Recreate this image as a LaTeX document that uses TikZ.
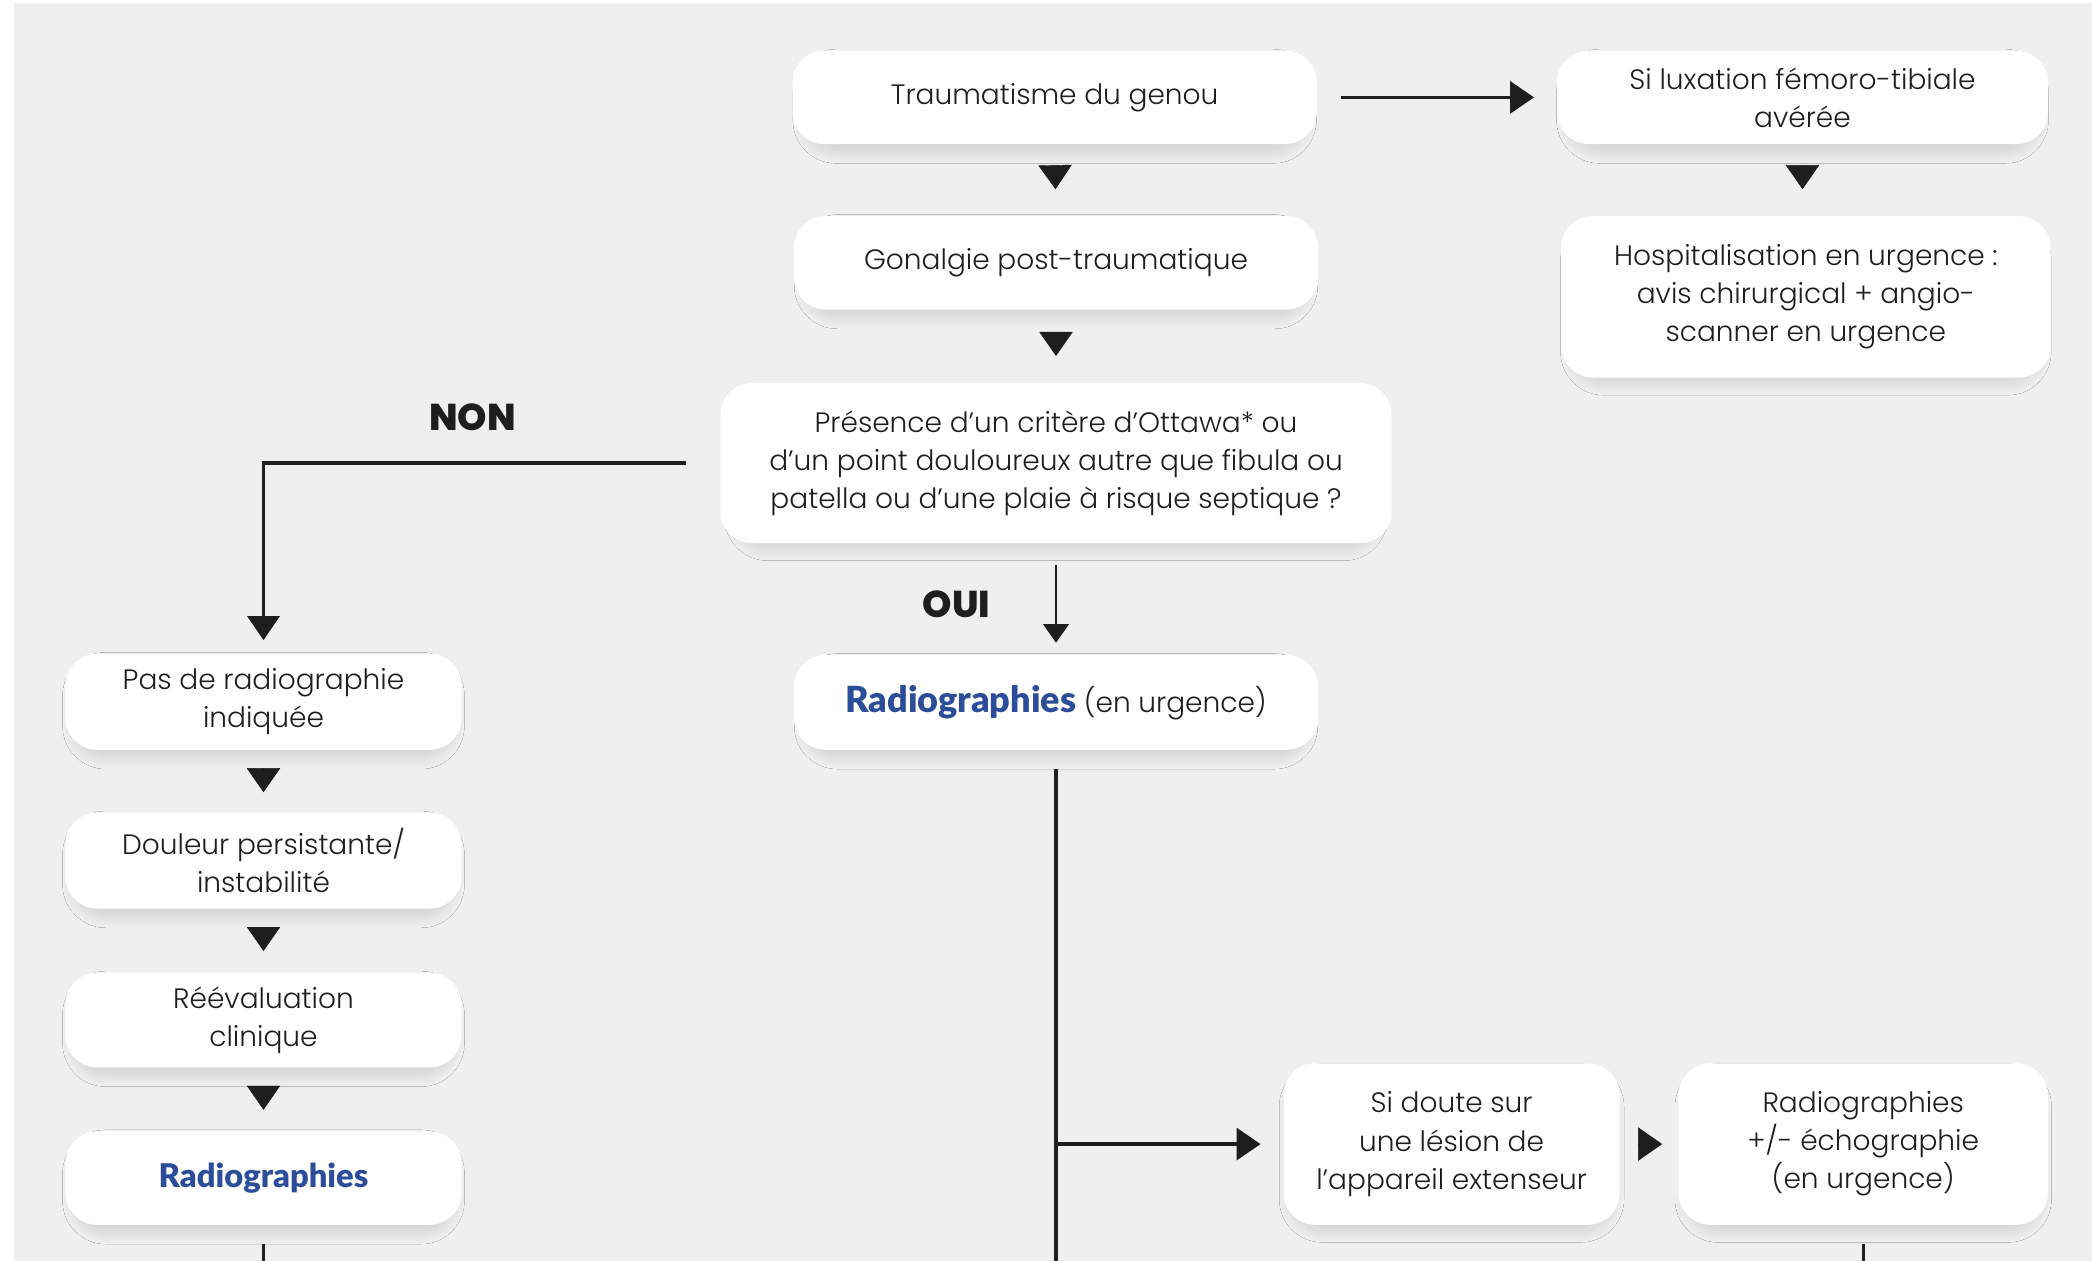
\documentclass[tikz,border=0pt]{standalone}
\usepackage{fontspec}
\setmainfont{Poppins}[UprightFont=* Light]
\newfontfamily\heavyfont{Poppins}[UprightFont=* ExtraBold]
\newfontfamily\latofont{Lato}[UprightFont=* Black]
\usetikzlibrary{arrows.meta,shadows.blur,calc}

\definecolor{paper}{HTML}{EFEFEF}
\definecolor{ink}{HTML}{1E1E1E}
\definecolor{radblue}{HTML}{2C4E9A}

% blue emphasised word, size given as argument
\newcommand{\radio}[1]{{\latofont\fontsize{#1}{28.5}\selectfont\color{radblue}Radiographies}}

\tikzset{
  box/.style={rectangle, rounded corners=24pt, fill=white, draw=none,
    align=center, inner sep=0pt, text=ink,
    font=\fontsize{21}{28.5}\selectfont,
    blur shadow={shadow xshift=0pt, shadow yshift=-7pt, shadow scale=0.95,
      shadow blur radius=10pt, shadow blur steps=20, shadow opacity=14}},
  flow/.style={draw=ink, line width=2.5pt},
  tip/.style={flow, -{Triangle[width=24pt,length=18pt]}},
  smalltip/.style={flow, line width=2pt, -{Triangle[width=19pt,length=14pt]}},
  step tri/.style={draw=ink, fill=ink, line width=0.3pt,
    -{Triangle[width=25pt,length=18pt]}},
  gap/.style 2 args={shorten <=#1pt, shorten >=#2pt},
  answer/.style={font=\heavyfont\fontsize{28}{30}\selectfont, text=ink}
}

\begin{document}
\begin{tikzpicture}[x=1pt,y=-1pt]
  % page and grey panel
  \fill[white] (0,0) rectangle (1568,945);
  \fill[paper] (10.5,2.5) rectangle (1568,945);
  \useasboundingbox (0,0) rectangle (1568,945);

  % boxes
  \node[box, minimum width=393pt, minimum height=70pt] (trauma) at (790.5,73)
    {Traumatisme du genou};
  \node[box, minimum width=368pt, minimum height=70pt] (lux) at (1351,73)
    {Si luxation fémoro-tibiale\\avérée};
  \node[box, minimum width=393pt, minimum height=70pt] (gon) at (791.5,197)
    {Gonalgie post-traumatique};
  \node[box, minimum width=367pt, minimum height=121pt] (hosp) at (1353.5,222.5)
    {Hospitalisation en urgence :\\avis chirurgical + angio-\\scanner en urgence};
  \node[box, minimum width=503pt, minimum height=120pt] (ott) at (791.5,347)
    {Présence d’un critère d’Ottawa* ou\\d’un point douloureux autre que fibula ou\\patella ou d’une plaie à risque septique ?};
  \node[box, minimum width=297pt, minimum height=72pt] (pas) at (197.5,526)
    {Pas de radiographie\\indiquée};
  \node[box, minimum width=393pt, minimum height=71pt] (radurg) at (791.5,526.5)
    {\radio{27}\ (en urgence)};
  \node[box, minimum width=297pt, minimum height=72pt] (doul) at (197.5,645)
    {Douleur persistante/\\instabilité};
  \node[box, minimum width=297pt, minimum height=71pt] (reev) at (197.5,764.5)
    {Réévaluation\\clinique};
  \node[box, minimum width=297pt, minimum height=70pt] (radl) at (197.5,883)
    {\radio{24.5}};
  \node[box, minimum width=252pt, minimum height=121pt] (doute) at (1088,857.5)
    {Si doute sur\\une lésion de\\l’appareil extenseur};
  \node[box, minimum width=277pt, minimum height=121pt] (echo) at (1396.5,857.5)
    {Radiographies\\+/- échographie\\(en urgence)};

  % labels of the decision
  \node[answer] (non) at (354,313) {NON};
  \node[answer] (oui) at (717,453) {OUI};

  % lone triangles between stacked boxes
  \draw[step tri, gap={16}{20}] (trauma.south) -- (gon.north);
  \draw[step tri, gap={16}{20}] (lux.south) -- (lux.south |- hosp.north);
  \draw[step tri, gap={17}{20}] (gon.south) -- (ott.north);
  \draw[step tri, gap={14}{15}] (pas.south) -- (doul.north);
  \draw[step tri, gap={14}{16}] (doul.south) -- (reev.north);
  \draw[step tri, gap={14}{16}] (reev.south) -- (radl.north);
  \draw[step tri, gap={14}{12}] (doute.east) -- (echo.west);

  % connectors with lines
  \draw[tip, gap={18}{17}] (trauma.east) -- (lux.west);
  \draw[tip, gap={26}{10}] (ott.west) -| (pas.north);
  \draw[smalltip, gap={16}{9}] (ott.south) -- (radurg.north);

  \coordinate (trunkend) at (radurg.south |- 0,945);
  \coordinate (branch) at (radurg.south |- doute.west);
  \draw[flow, shorten <=14pt] (radurg.south) -- (trunkend);
  \draw[tip, shorten >=17pt] (branch) -- (doute.west);

  \coordinate (leftend) at (radl.south |- 0,945);
  \coordinate (rightend) at (echo.south |- 0,945);
  \draw[flow, shorten <=14pt] (radl.south) -- (leftend);
  \draw[flow, shorten <=14pt] (echo.south) -- (rightend);
\end{tikzpicture}
\end{document}
